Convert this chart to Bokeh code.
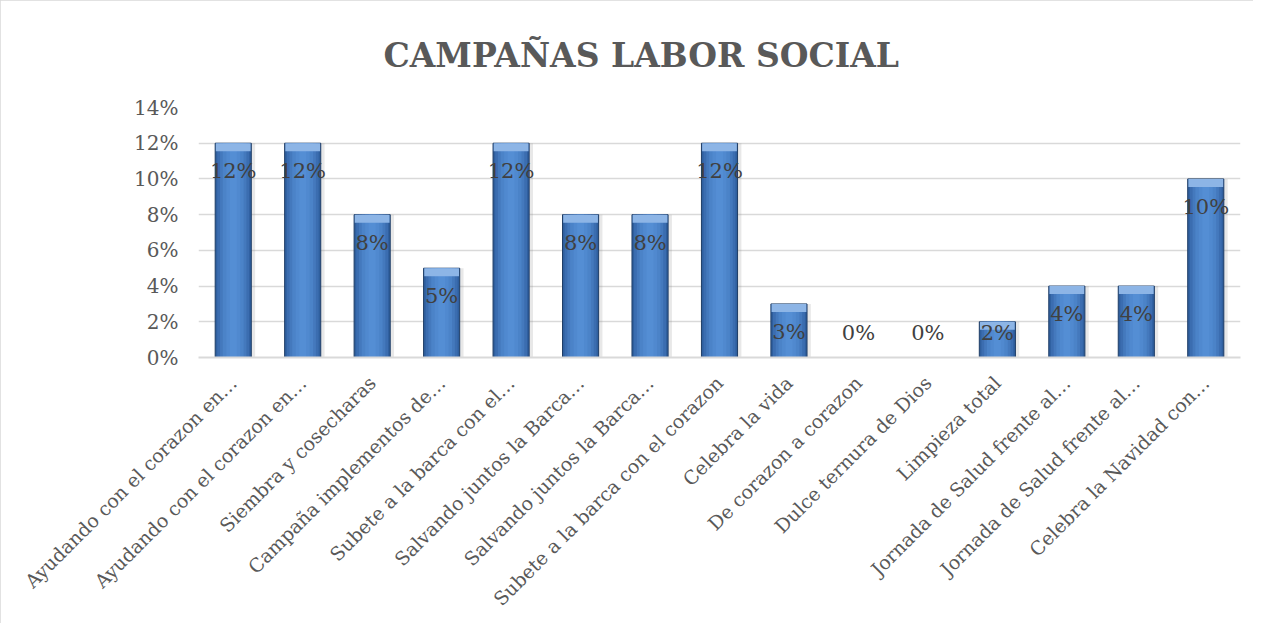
import numpy as np
from bokeh.plotting import figure
from bokeh.models import Range1d, FixedTicker, NumeralTickFormatter, ColumnDataSource
from bokeh.core.properties import value
from bokeh.embed import file_html
from bokeh.resources import INLINE

title_text = "CAMPAÑAS LABOR SOCIAL"
categories = [
    "Ayudando con el corazon en…",
    "Ayudando con el corazon en…",
    "Siembra y cosecharas",
    "Campaña implementos de…",
    "Subete a la barca con el…",
    "Salvando juntos la Barca…",
    "Salvando juntos la Barca…",
    "Subete a la barca con el corazon",
    "Celebra la vida",
    "De corazon a corazon",
    "Dulce ternura de Dios",
    "Limpieza total",
    "Jornada de Salud frente al…",
    "Jornada de Salud frente al…",
    "Celebra la Navidad con…",
]
shares = [0.12, 0.12, 0.08, 0.05, 0.12, 0.08, 0.08, 0.12, 0.03, 0.0, 0.0, 0.02, 0.04, 0.04, 0.10]
y_ticks = [0.0, 0.02, 0.04, 0.06, 0.08, 0.10, 0.12, 0.14]

FONT = "DejaVu Serif"
xs = list(range(len(categories)))
vals = np.array(shares)
src = ColumnDataSource(dict(
    x=xs, top=vals,
    xs_shadow=[x + 0.035 for x in xs],
    bevel=np.maximum(vals - 0.0045, 0),
    ly=np.maximum(vals, 0.0297) - 0.0157,
    lbl=[f"{round(v*100)}%" for v in vals],
))

p = figure(width=1253, height=623, output_backend="svg", toolbar_location=None,
           x_range=Range1d(-0.5, len(categories) - 0.5), y_range=Range1d(0, 0.14),
           min_border_left=198, min_border_right=13, min_border_bottom=266, min_border_top=107)
p.title.text = title_text
p.title.align = "left"
p.title.offset = 185
p.title.text_font = FONT
p.title.text_font_size = "33px"
p.title.text_font_style = "bold"
p.title.text_color = "#595959"
p.title.standoff = 66
p.outline_line_color = None
p.styles = {"outline": "1px solid #d9d9d9", "outline-offset": "-1px"}

# soft shadow
p.vbar(x="xs_shadow", top="top", bottom=0, width=0.56, source=src, fill_color="#7f7f7f",
       fill_alpha=0.18, line_color=None)
# bars with layered shading
p.vbar(x="x", top="top", bottom=0, width=0.52, source=src, fill_color="#2f5f9e",
       line_color="#1f3d66", line_width=1)
for w, c in [(0.46, "#3b6db0"), (0.38, "#4479bd"), (0.30, "#4b83c8"), (0.20, "#5089cf"), (0.10, "#548ed4")]:
    p.vbar(x="x", top="top", bottom=0, width=w, source=src, fill_color=c, line_color=None)
p.vbar(x="x", top="top", bottom="bevel", width=0.50, source=src, fill_color="#8db5e6", line_color=None)

p.text(x="x", y="ly", text="lbl", source=src, text_align="center", text_baseline="middle",
       text_font=value(FONT), text_font_size="21px", text_color="#404040")

p.yaxis.ticker = FixedTicker(ticks=y_ticks)
p.yaxis.formatter = NumeralTickFormatter(format="0%")
p.yaxis.axis_line_color = None
p.yaxis.major_tick_line_color = None
p.yaxis.minor_tick_line_color = None
p.yaxis.major_label_standoff = 14
p.yaxis.major_label_text_font = FONT
p.yaxis.major_label_text_font_size = "20px"
p.yaxis.major_label_text_color = "#595959"

p.xaxis.ticker = FixedTicker(ticks=xs)
p.xaxis.major_label_overrides = {i: c for i, c in enumerate(categories)}
p.xaxis.major_label_orientation = np.pi / 4
p.xaxis.axis_line_color = "#d9d9d9"
p.xaxis.axis_line_width = 2
p.xaxis.major_tick_line_color = None
p.xaxis.minor_tick_line_color = None
p.xaxis.major_label_standoff = 16
p.xaxis.major_label_text_font = FONT
p.xaxis.major_label_text_font_size = "19px"
p.xaxis.major_label_text_color = "#595959"

p.xgrid.grid_line_color = None
p.ygrid.ticker = FixedTicker(ticks=y_ticks)
p.ygrid.grid_line_color = "#d9d9d9"
p.ygrid.grid_line_width = 1.5

open("out.html", "w").write(file_html(p, INLINE))
